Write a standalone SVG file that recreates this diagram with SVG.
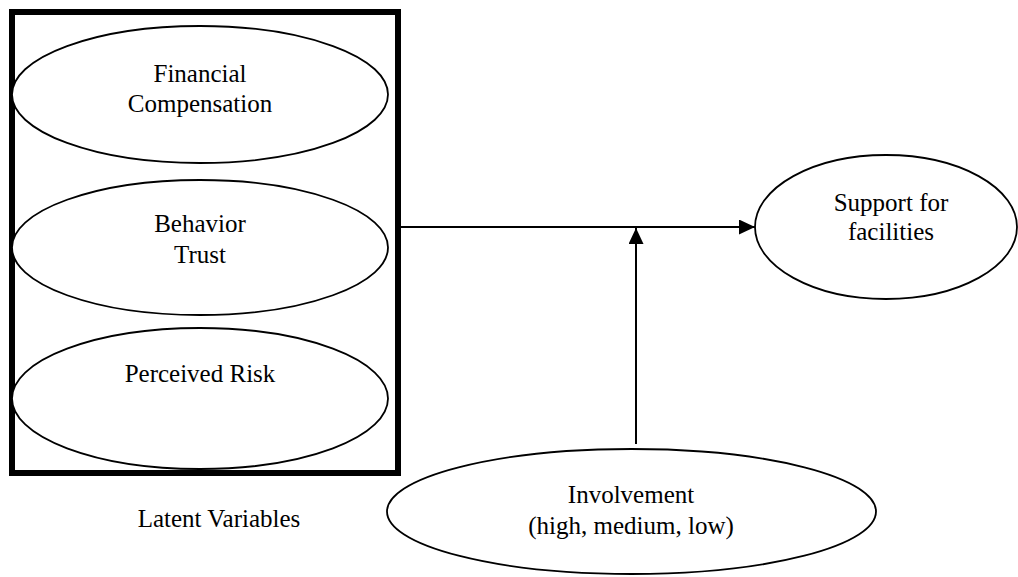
<svg xmlns="http://www.w3.org/2000/svg" width="1018" height="577" viewBox="0 0 1018 577">
<style>
.n{fill:#fff;stroke:#000;stroke-width:1.8}
.t{font-family:"Liberation Serif","Times New Roman",serif;font-size:25px;fill:#000;text-anchor:middle}
.c{stroke:#000;stroke-width:2;fill:none}
</style>
<defs>
<marker id="ah" viewBox="0 0 16 15" refX="16" refY="7.5" markerWidth="16" markerHeight="15" markerUnits="userSpaceOnUse" orient="auto">
<path d="M0,0 L16,7.5 L0,15 Z" fill="#000"/>
</marker>
</defs>
<rect width="1018" height="577" fill="#fff"/>
<g id="latent">
<rect x="12" y="12" width="386" height="461" fill="none" stroke="#000" stroke-width="6"/>
<text class="t" x="219" y="527">Latent Variables</text>
</g>
<g id="financial">
<ellipse class="n" cx="200" cy="94.5" rx="188" ry="68.5"/>
<text class="t" x="200" y="82">Financial</text>
<text class="t" x="200" y="112">Compensation</text>
</g>
<g id="behavior">
<ellipse class="n" cx="200" cy="247.5" rx="188" ry="67.5"/>
<text class="t" x="200" y="232">Behavior</text>
<text class="t" x="200" y="263">Trust</text>
</g>
<g id="risk">
<ellipse class="n" cx="200" cy="398.5" rx="188" ry="70.5"/>
<text class="t" x="200" y="382">Perceived Risk</text>
</g>
<g id="support">
<ellipse class="n" cx="886" cy="227" rx="131" ry="72"/>
<text class="t" x="891" y="211">Support for</text>
<text class="t" x="891" y="240">facilities</text>
</g>
<g id="involvement">
<ellipse class="n" cx="631.5" cy="511.5" rx="244.5" ry="62.5"/>
<text class="t" x="631" y="503">Involvement</text>
<text class="t" x="631" y="534">(high, medium, low)</text>
</g>
<g id="connectors">
<line class="c" x1="395" y1="227" x2="755" y2="227" marker-end="url(#ah)"/>
<line class="c" x1="636" y1="444" x2="636" y2="228" marker-end="url(#ah)"/>
</g>
</svg>
